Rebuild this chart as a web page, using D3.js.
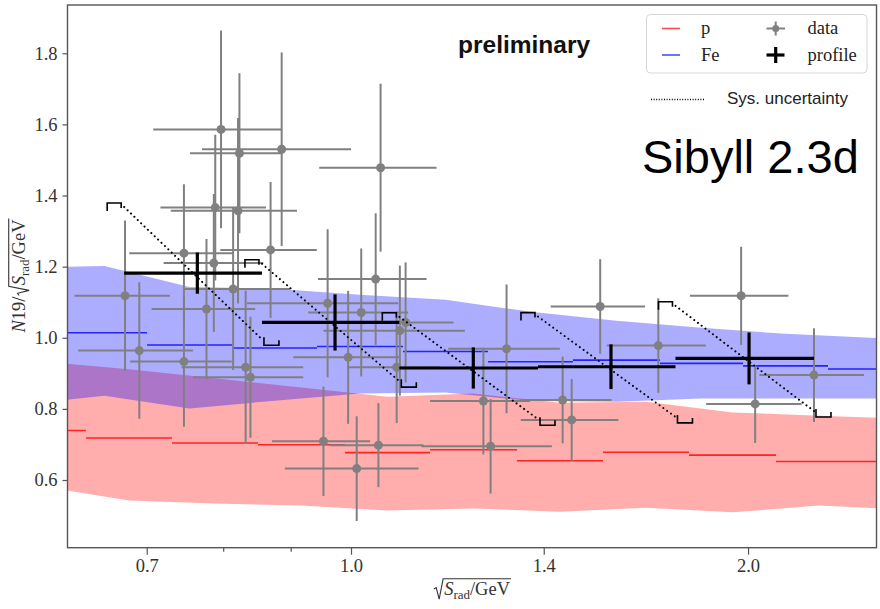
<!DOCTYPE html>
<html>
<head>
<meta charset="utf-8">
<script src="https://cdn.jsdelivr.net/npm/d3@7"></script>
<style>
  body { margin: 0; background: #fff; }
  svg { display: block; }
</style>
</head>
<body>
<svg id="chart" width="880" height="609"></svg>
<script>
// ---- measured points (gray) ----
const dataX    = [0.797,0.823,0.886,0.789,0.821,0.747,0.787,0.869,0.674,0.777,0.814,0.691,0.747,0.832,0.839,1.053,1.044,0.960,1.018,0.995,1.089,1.100,1.083,0.953,1.010,1.049,1.312,1.260,1.276,1.447,1.470,1.545,1.710,1.976,2.025,2.244];
const dataY    = [1.586,1.519,1.530,1.366,1.357,1.238,1.210,1.247,1.118,1.081,1.137,0.964,0.933,0.917,0.889,1.478,1.165,1.097,1.071,0.945,1.020,1.043,0.917,0.709,0.632,0.698,0.969,0.822,0.695,0.825,0.769,1.088,0.978,1.118,0.814,0.895];
const dataXLo  = [0.708,0.755,0.771,0.717,0.730,0.679,0.721,0.796,0.617,0.706,0.747,0.621,0.680,0.744,0.759,0.946,0.944,0.834,0.928,0.904,0.953,0.990,0.993,0.871,0.891,0.964,1.185,1.148,1.131,1.345,1.345,1.417,1.563,1.807,1.859,2.040];
const dataXHi  = [0.885,0.885,1.000,0.862,0.910,0.814,0.858,0.942,0.729,0.846,0.899,0.759,0.812,0.920,0.920,1.161,1.141,1.086,1.105,1.089,1.220,1.196,1.168,1.034,1.125,1.135,1.440,1.367,1.420,1.576,1.595,1.671,1.858,2.146,2.196,2.449];
const dataYErr = [0.278,0.225,0.272,0.205,0.261,0.194,0.194,0.191,0.212,0.197,0.228,0.192,0.183,0.216,0.170,0.236,0.185,0.208,0.180,0.187,0.183,0.169,0.157,0.154,0.147,0.118,0.181,0.150,0.133,0.122,0.115,0.133,0.133,0.138,0.110,0.132];

// ---- profile (black) ----
const profEdges = [0.673, 0.856, 1.088, 1.386, 1.762, 2.244];
const profX     = [0.7647, 0.9725, 1.238, 1.5744, 2.0035];
const profY     = [1.1817, 1.043, 0.915, 0.9185, 0.9419];
const profYErr  = [0.058, 0.079, 0.058, 0.063, 0.073];
const profSys   = [0.186, 0.165, 0.144, 0.141, 0.148];

// ---- simulation: proton ----
const pEdges  = [0.542, 0.6296, 0.7316, 0.8501, 0.9896, 1.1479, 1.3362, 1.5526, 1.8042, 2.1001, 2.60];
const pMean   = [0.739, 0.718, 0.704, 0.699, 0.677, 0.685, 0.654, 0.678, 0.670, 0.652];
const pBandX  = [0.5841, 0.6787, 0.7887, 0.9172, 1.0658, 1.2385, 1.4404, 1.6736, 1.9465, 2.2637, 2.6306];
const pUpper  = [0.933, 0.9115, 0.886, 0.860, 0.834, 0.843, 0.817, 0.820, 0.790, 0.781, 0.772];
const pLower  = [0.5815, 0.542, 0.534, 0.528, 0.514, 0.520, 0.511, 0.522, 0.509, 0.528, 0.517];

// ---- simulation: iron ----
const feEdges = [0.603, 0.7004, 0.8124, 0.9424, 1.0950, 1.2702, 1.4734, 1.7151, 1.9826, 2.2996, 2.67];
const feMean  = [1.014, 0.9795, 0.971, 0.9756, 0.9615, 0.9326, 0.937, 0.928, 0.921, 0.912];
const feBandX = [0.5606, 0.6502, 0.7543, 0.8750, 1.0158, 1.1794, 1.3680, 1.5896, 1.8440, 2.1353, 2.4766, 2.873];
const feUpper = [1.197, 1.202, 1.143, 1.138, 1.121, 1.107, 1.073, 1.048, 1.028, 1.011, 1.000, 0.99];
const feLower = [0.812, 0.837, 0.801, 0.823, 0.843, 0.846, 0.822, 0.820, 0.829, 0.829, 0.829, 0.829];

// ---- axes ----
const xTicks      = [0.7, 0.8, 0.9, 1.0, 1.4, 2.0];
const xTickLabels = ["0.7", "", "", "1.0", "1.4", "2.0"];
const yTicks      = [0.6, 0.8, 1.0, 1.2, 1.4, 1.6, 1.8];

const L = 67.5, R = 876.5, T = 5, B = 547.7;
const svg = d3.select("#chart");
const x = d3.scaleLog().domain([0.6096, 2.5028]).range([L, R]);
const y = d3.scaleLinear().domain([0.4096, 1.9358]).range([B, T]);

svg.append("defs").append("clipPath").attr("id", "plotclip")
  .append("rect").attr("x", L).attr("y", T).attr("width", R - L).attr("height", B - T);

const plot = svg.append("g").attr("clip-path", "url(#plotclip)");

// bands
const area = d3.area().x(d => x(d[0])).y0(d => y(d[1])).y1(d => y(d[2]));
plot.append("path")
  .datum(pBandX.map((v, i) => [v, pLower[i], pUpper[i]]))
  .attr("d", area).attr("fill", "rgb(255,0,0)").attr("fill-opacity", 0.32);
plot.append("path")
  .datum(feBandX.map((v, i) => [v, feLower[i], feUpper[i]]))
  .attr("d", area).attr("fill", "rgb(0,0,255)").attr("fill-opacity", 0.32);

// step means
function steps(edges, vals, color) {
  plot.append("g").selectAll("line").data(vals).join("line")
    .attr("x1", (d, i) => x(edges[i])).attr("x2", (d, i) => x(edges[i + 1]))
    .attr("y1", d => y(d)).attr("y2", d => y(d))
    .attr("stroke", color).attr("stroke-width", 1.6).attr("stroke-opacity", 0.8);
}
steps(pEdges, pMean, "#ff0000");
steps(feEdges, feMean, "#0000ff");

// data points with error bars
const gray = "#808080";
const dg = plot.append("g");
const idx = d3.range(dataX.length);
dg.selectAll("line.h").data(idx).join("line").attr("class", "h")
  .attr("x1", i => x(dataXLo[i])).attr("x2", i => x(dataXHi[i]))
  .attr("y1", i => y(dataY[i])).attr("y2", i => y(dataY[i]))
  .attr("stroke", gray).attr("stroke-width", 2);
dg.selectAll("line.v").data(idx).join("line").attr("class", "v")
  .attr("x1", i => x(dataX[i])).attr("x2", i => x(dataX[i]))
  .attr("y1", i => y(dataY[i] + dataYErr[i])).attr("y2", i => y(dataY[i] - dataYErr[i]))
  .attr("stroke", gray).attr("stroke-width", 2);
dg.selectAll("circle").data(idx).join("circle")
  .attr("cx", i => x(dataX[i])).attr("cy", i => y(dataY[i])).attr("r", 4.5)
  .attr("fill", gray);

// profile
const pg = plot.append("g");
const pidx = d3.range(profX.length);
pg.selectAll("line.h").data(pidx).join("line").attr("class", "h")
  .attr("x1", i => x(profEdges[i])).attr("x2", i => x(profEdges[i + 1]))
  .attr("y1", i => y(profY[i])).attr("y2", i => y(profY[i]))
  .attr("stroke", "#000").attr("stroke-width", 3.2);
pg.selectAll("line.v").data(pidx).join("line").attr("class", "v")
  .attr("x1", i => x(profX[i])).attr("x2", i => x(profX[i]))
  .attr("y1", i => y(profY[i] + profYErr[i])).attr("y2", i => y(profY[i] - profYErr[i]))
  .attr("stroke", "#000").attr("stroke-width", 3.2);

// systematic uncertainty: dotted diagonal with end brackets
const sg = plot.append("g").attr("stroke", "#000").attr("fill", "none");
pidx.forEach(i => {
  const x0 = x(profEdges[i]), x1 = x(profEdges[i + 1]);
  const y0 = y(profY[i] + profSys[i]), y1 = y(profY[i] - profSys[i]);
  sg.append("line").attr("x1", x0).attr("y1", y0).attr("x2", x1).attr("y2", y1)
    .attr("stroke-width", 2).attr("stroke-linecap", "round")
    .attr("stroke-dasharray", "0.1,4.6");
  sg.append("path").attr("stroke-width", 1.6)
    .attr("d", `M${x0 - 17},${y0 + 4} V${y0 - 4} H${x0 - 3} V${y0 + 1}`);
  sg.append("path").attr("stroke-width", 1.6)
    .attr("d", `M${x1 + 2},${y1 - 2} V${y1 + 6} H${x1 + 17} V${y1 + 1}`);
});

// axes
const axisColor = "#555";
const xAxis = d3.axisBottom(x).tickValues(xTicks)
  .tickFormat((d, i) => xTickLabels[i]).tickSize(7).tickPadding(4);
const gx = svg.append("g").attr("transform", `translate(0,${B})`).call(xAxis);
gx.select(".domain").remove();
gx.selectAll(".tick line").attr("stroke", axisColor).attr("stroke-width", 1.2)
  .attr("y2", (d, i) => xTickLabels[i] ? 7 : 4);
gx.selectAll(".tick text").attr("fill", "#333")
  .style("font-family", "'Liberation Serif', serif").style("font-size", "18.5px");

const yAxis = d3.axisLeft(y).tickValues(yTicks).tickFormat(d3.format(".1f"))
  .tickSize(5).tickPadding(5);
const gy = svg.append("g").attr("transform", `translate(${L},0)`).call(yAxis);
gy.select(".domain").remove();
gy.selectAll(".tick line").attr("stroke", axisColor).attr("stroke-width", 1.2);
gy.selectAll(".tick text").attr("fill", "#333")
  .style("font-family", "'Liberation Serif', serif").style("font-size", "18.5px");

svg.append("rect").attr("x", L).attr("y", T).attr("width", R - L).attr("height", B - T)
  .attr("fill", "none").attr("stroke", axisColor).attr("stroke-width", 1.4);

// axis titles with a radical sign
function mathLabel(parent, withPrefix, fs) {
  const g = parent.append("g")
    .style("font-family", "'Liberation Serif', serif").style("font-size", fs + "px")
    .attr("fill", "#333");
  let cx = 0;
  if (withPrefix) {
    const t = g.append("text").attr("x", 0).attr("y", 0);
    t.append("tspan").attr("font-style", "italic").text("N");
    t.append("tspan").text("19/");
    cx = t.node().getComputedTextLength() + 1;
  }
  const rw = 0.55 * fs;
  const t2 = g.append("text").attr("x", cx + rw).attr("y", 0);
  t2.append("tspan").attr("font-style", "italic").text("S");
  t2.append("tspan").attr("font-size", (fs * 0.7) + "px").attr("dy", fs * 0.22).text("rad");
  t2.append("tspan").attr("dy", -fs * 0.22).text("/GeV");
  const w2 = t2.node().getComputedTextLength();
  const top = -0.88 * fs;
  g.append("path").attr("fill", "none").attr("stroke", "#333").attr("stroke-width", 1.1)
    .attr("d", `M${cx},${-0.32 * fs} L${cx + 0.12 * fs},${-0.4 * fs} L${cx + 0.28 * fs},${0.22 * fs} L${cx + rw - 1},${top} H${cx + rw + w2 + 1}`);
  return { g, w: cx + rw + w2 };
}
const xl = mathLabel(svg.append("g"), false, 18.5);
xl.g.attr("transform", `translate(${472 - xl.w / 2},595)`);
const ylHolder = svg.append("g").attr("transform", "translate(25,276) rotate(-90)");
const yl = mathLabel(ylHolder, true, 18.5);
yl.g.attr("transform", `translate(${-yl.w / 2},0)`);

// annotations
svg.append("text").attr("x", 458).attr("y", 53)
  .style("font-family", "'Liberation Sans', Arial, sans-serif").style("font-size", "24.5px")
  .style("font-weight", "bold").attr("fill", "#111").text("preliminary");
svg.append("text").attr("x", 642).attr("y", 173)
  .style("font-family", "'Liberation Sans', Arial, sans-serif").style("font-size", "47px")
  .attr("fill", "#000").text("Sibyll 2.3d");

// legend
const lg = svg.append("g");
lg.append("rect").attr("x", 646.5).attr("y", 14.5).attr("width", 220.5).attr("height", 58.5)
  .attr("rx", 4).attr("fill", "#fff").attr("fill-opacity", 0.8)
  .attr("stroke", "#d6d6d6").attr("stroke-width", 1);
const legFont = "'Liberation Serif', serif";
lg.append("line").attr("x1", 662).attr("x2", 680).attr("y1", 28.5).attr("y2", 28.5)
  .attr("stroke", "#ff0000").attr("stroke-opacity", 0.7).attr("stroke-width", 1.6);
lg.append("line").attr("x1", 662).attr("x2", 680).attr("y1", 55).attr("y2", 55)
  .attr("stroke", "#0000ff").attr("stroke-opacity", 0.7).attr("stroke-width", 1.6);
lg.append("line").attr("x1", 766.5).attr("x2", 785).attr("y1", 28.5).attr("y2", 28.5)
  .attr("stroke", gray).attr("stroke-width", 2);
lg.append("line").attr("x1", 775.7).attr("x2", 775.7).attr("y1", 21.5).attr("y2", 35.5)
  .attr("stroke", gray).attr("stroke-width", 2);
lg.append("circle").attr("cx", 775.7).attr("cy", 28.5).attr("r", 3.5).attr("fill", gray);
lg.append("line").attr("x1", 766.5).attr("x2", 784.5).attr("y1", 55).attr("y2", 55)
  .attr("stroke", "#000").attr("stroke-width", 3.2);
lg.append("line").attr("x1", 775.7).attr("x2", 775.7).attr("y1", 47).attr("y2", 63)
  .attr("stroke", "#000").attr("stroke-width", 3.2);
[["p", 701, 33.5], ["Fe", 701, 61], ["data", 807.5, 33.5], ["profile", 807.5, 61]].forEach(([s, lx, ly]) => {
  lg.append("text").attr("x", lx).attr("y", ly).style("font-family", legFont)
    .style("font-size", "18.5px").attr("fill", "#222").text(s);
});
lg.append("line").attr("x1", 651).attr("x2", 705).attr("y1", 99.5).attr("y2", 99.5)
  .attr("stroke", "#000").attr("stroke-width", 1.3).attr("stroke-dasharray", "1,1.6");
lg.append("text").attr("x", 727).attr("y", 104)
  .style("font-family", "'Liberation Sans', Arial, sans-serif").style("font-size", "17px")
  .attr("fill", "#222").text("Sys. uncertainty");
</script>
</body>
</html>
